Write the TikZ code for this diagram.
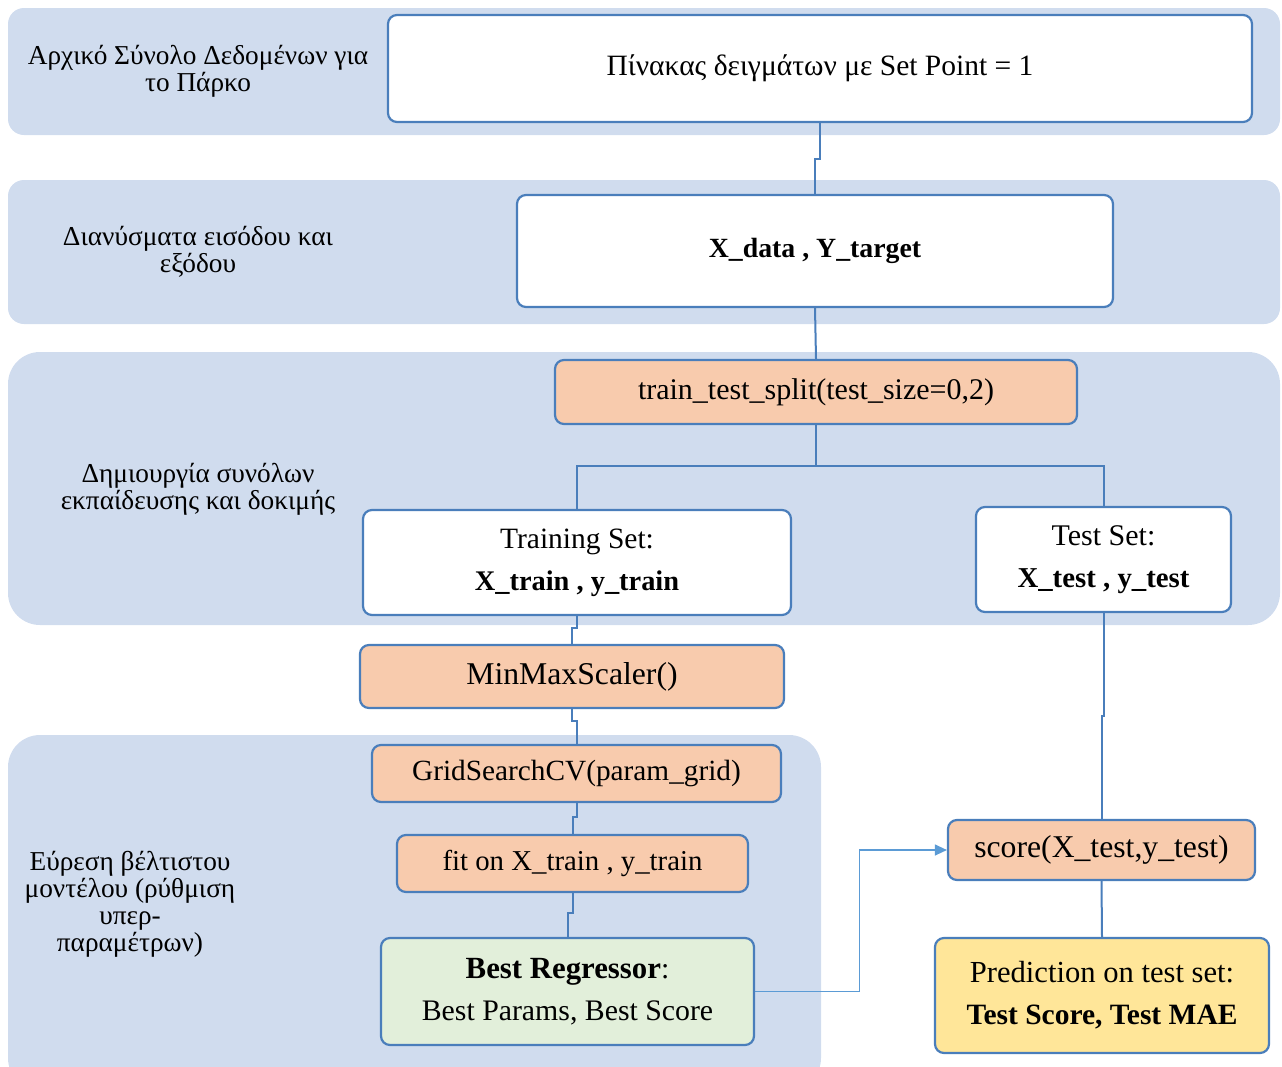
\documentclass[tikz,border=0pt]{standalone}
\usepackage{fontspec}
\setmainfont{Liberation Serif}
\usetikzlibrary{arrows.meta}
\definecolor{band}{RGB}{208,220,238}
\definecolor{bord}{RGB}{74,126,187}
\definecolor{orangef}{RGB}{248,203,173}
\definecolor{greenf}{RGB}{226,239,218}
\definecolor{yellowf}{RGB}{255,230,153}
\definecolor{arrowc}{RGB}{91,155,213}
\newcommand\myfs[2]{\fontsize{#1}{#2}\selectfont}
\begin{document}
\begin{tikzpicture}[x=1pt,y=-1pt,
  box/.style={draw=bord, line width=2.2pt, rounded corners=9pt, align=center, inner sep=0pt, text=black},
  wbox/.style={box, fill=white},
  obox/.style={box, fill=orangef},
  gbox/.style={box, fill=greenf},
  ybox/.style={box, fill=yellowf},
  lbl/.style={align=center, inner sep=0pt, font=\myfs{27.3}{27}},
  conn/.style={draw=bord, line width=2pt},
]
\useasboundingbox (0,0) rectangle (1282,1066);
% bands
\fill[band, rounded corners=16pt] (8,8) rectangle (1280,135);
\fill[band, rounded corners=16pt] (8,180) rectangle (1280,324);
\fill[band, rounded corners=32pt] (8,352) rectangle (1280,625);
\fill[band, rounded corners=32pt] (8,735) rectangle (821,1090);
% left labels
\node[lbl] (l1) at (198,71) {Αρχικό Σύνολο Δεδομένων για\\το Πάρκο};
\node[lbl] (l2) at (198,252) {Διανύσματα εισόδου και\\εξόδου};
\node[lbl] (l3) at (198,489) {Δημιουργία συνόλων\\εκπαίδευσης και δοκιμής};
\node[lbl] (l4) at (130,904) {Εύρεση βέλτιστου\\μοντέλου (ρύθμιση\\υπερ-\\παραμέτρων)};
% boxes
\node[wbox, minimum width=864pt, minimum height=107pt, font=\myfs{29.5}{32}] (A) at (820,68.5) {Πίνακας δειγμάτων με Set Point = 1};
\node[wbox, minimum width=596pt, minimum height=112pt, font=\myfs{27.8}{30}\bfseries] (B) at (815,251) {X\_data , Y\_target};
\node[obox, minimum width=522pt, minimum height=64pt, font=\myfs{30}{32}] (C) at (816,392) {train\_test\_split(test\_size=0,2)};
\node[wbox, minimum width=428pt, minimum height=105pt, font=\myfs{29.5}{42}] (D) at (577,562.5) {Training Set:\\\textbf{\myfs{28.4}{42}X\_train , y\_train}};
\node[wbox, minimum width=255pt, minimum height=105pt, font=\myfs{30}{42}] (E) at (1103.5,559.5) {Test Set:\\\textbf{\myfs{28.8}{42}X\_test , y\_test}};
\node[obox, minimum width=424pt, minimum height=63pt, font=\myfs{31.7}{34}] (F) at (572,676.5) {MinMaxScaler()};
\node[obox, minimum width=409pt, minimum height=57pt, font=\myfs{29.3}{32}] (G) at (576.5,773.5) {GridSearchCV(param\_grid)};
\node[obox, minimum width=351pt, minimum height=57pt, font=\myfs{28.8}{32}] (H) at (572.5,863.5) {fit on X\_train , y\_train};
\node[gbox, minimum width=373pt, minimum height=107pt, font=\myfs{29.8}{42}] (I) at (567.5,991.5) {\textbf{\myfs{30.8}{42}Best Regressor}:\\Best Params, Best Score};
\node[obox, minimum width=307pt, minimum height=60pt, font=\myfs{31.7}{34}] (J) at (1101.5,850) {score(X\_test,y\_test)};
\node[ybox, minimum width=334pt, minimum height=115pt, font=\myfs{30.6}{42}] (K) at (1102,995.5) {Prediction on test set:\\\textbf{\myfs{29.5}{42}Test Score, Test MAE}};
% connectors
\draw[conn] (A.south) -- ++(0,36) -| (B.north);
\draw[conn] (B.south) -- (C.north);
\draw[conn] (C.south) -- ++(0,41) coordinate (split);
\draw[conn] (split) -| (D.north);
\draw[conn] (split) -| (E.north);
\draw[conn] (D.south) -- ++(0,12) -| (F.north);
\draw[conn] (F.south) -- ++(0,12) -| (G.north);
\draw[conn] (G.south) -- ++(0,14) -| (H.north);
\draw[conn] (H.south) -- ++(0,20) -| (I.north);
\draw[conn] (E.south) -- ++(0,103) -| (J.north);
\draw[conn] (J.south) -- (K.north);
\draw[draw=arrowc, line width=1.2pt, -{Triangle[length=12pt,width=11pt]}] (I.east) -- ++(104,0) |- (J.west);
\end{tikzpicture}
\end{document}
